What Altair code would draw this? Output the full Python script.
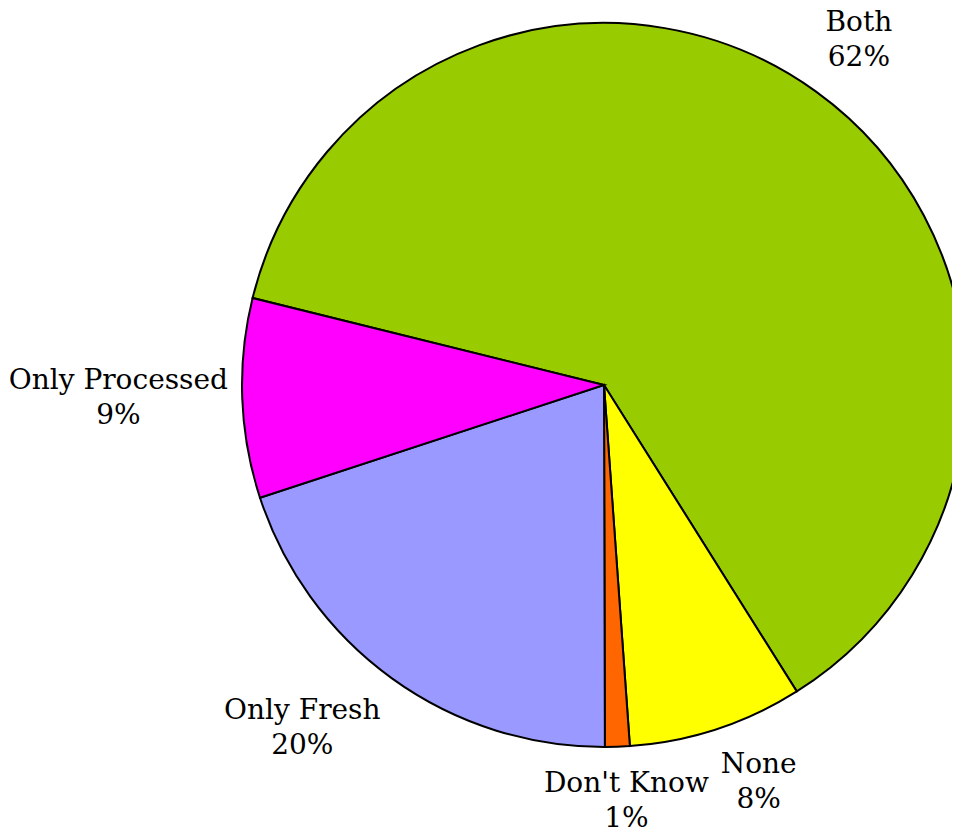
import math
import altair as alt
import pandas as pd

categories = ["Both", "None", "Don't Know", "Only Fresh", "Only Processed"]
values = [62.2, 7.8, 1.1, 20.0, 8.9]
pct_labels = ["62%", "8%", "1%", "20%", "9%"]
colors = ["#99CC00", "#FFFF00", "#FF6600", "#9999FF", "#FF00FF"]

df = pd.DataFrame({
    "category": categories,
    "value": values,
    "order": list(range(len(categories))),
    "label": [f"{c}\n{p}" for c, p in zip(categories, pct_labels)],
})

start = math.radians(283.9)
theta_scale = alt.Scale(domain=[0, 100], range=[start, start + 2 * math.pi])

CX, CY = 596, 377

pie = alt.Chart(df).mark_arc(radius=362, stroke="black", strokeWidth=2).encode(
    theta=alt.Theta("value:Q", stack=True, scale=theta_scale),
    order=alt.Order("order:Q"),
    x=alt.value(CX),
    y=alt.value(CY),
    color=alt.Color("category:N", scale=alt.Scale(domain=categories, range=colors), legend=None),
)

# label placement (radius, dx, dy) -- layout only
label_place = {
    "Both": (430, 3, -14),
    "None": (426, 22, -25),
    "Don't Know": (416, 7, -17),
    "Only Fresh": (457, -34, -44),
    "Only Processed": (486, 0, -22),
}

label_base = alt.Chart(df).transform_window(
    cum="sum(value)", sort=[alt.SortField("order")], frame=[None, 0]
).transform_calculate(mid="datum.cum - datum.value / 2")

label_layers = []
for cat in categories:
    r, dx, dy = label_place[cat]
    label_layers.append(
        label_base.transform_filter(alt.datum.category == cat).mark_text(
            font="DejaVu Serif", fontSize=28, lineBreak="\n", lineHeight=35,
            align="center", baseline="middle", color="black", dx=dx, dy=dy,
        ).encode(
            theta=alt.Theta("mid:Q", stack=None, scale=theta_scale),
            radius=alt.value(r),
            x=alt.value(CX),
            y=alt.value(CY),
            text="label:N",
        )
    )

chart = alt.layer(pie, *label_layers).properties(
    width=944, height=820, padding=0, autosize=alt.AutoSizeParams(type="none"),
).configure_view(stroke=None)

chart.save("out.html", embed_options={"renderer": "svg", "actions": False})
